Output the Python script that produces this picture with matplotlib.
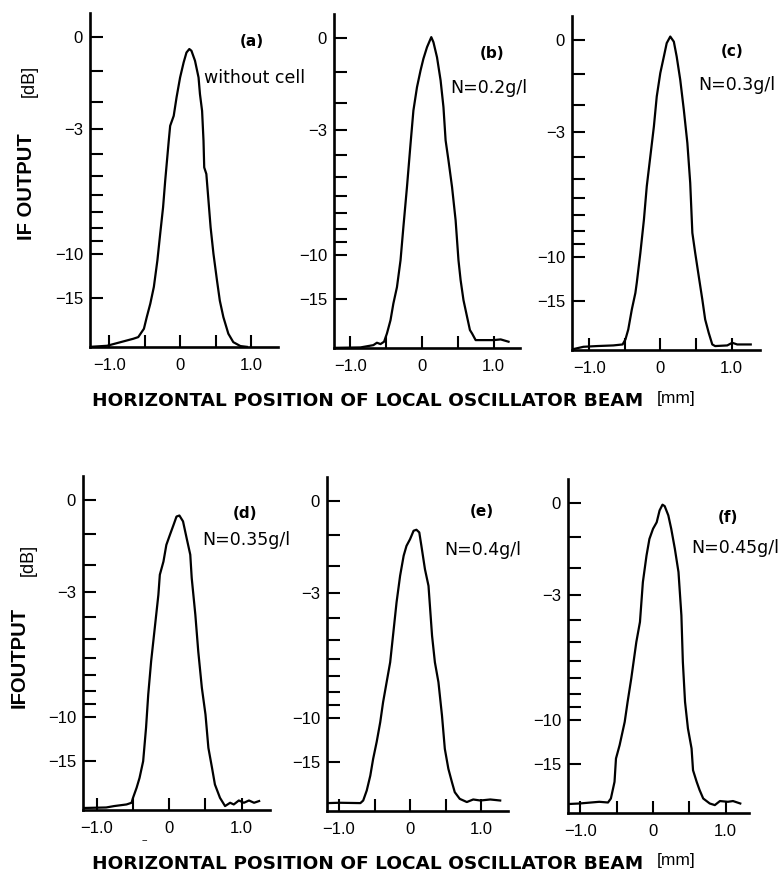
import numpy as np
import matplotlib
matplotlib.use("Agg")
import matplotlib.pyplot as plt
from matplotlib.ticker import NullFormatter

plt.rcParams['font.family'] = ['Liberation Sans', 'DejaVu Sans']

# ---------------- data (position in mm, IF output in dB) ----------------
x_a = [-1.27, -1.03, -0.66, -0.59, -0.51, -0.47, -0.42, -0.37, -0.32, -0.28,
       -0.24, -0.21, -0.16, -0.14, -0.09, -0.05, 0.00, 0.05, 0.09, 0.13,
       0.16, 0.21, 0.26, 0.28, 0.31, 0.33, 0.34, 0.37, 0.40, 0.43,
       0.47, 0.52, 0.56, 0.61, 0.68, 0.75, 0.85, 0.94]
db_a = [-33.0, -31.8, -26.4, -25.5, -22.0, -18.7, -16.0, -13.5, -10.6, -8.4,
        -6.7, -5.25, -3.45, -2.86, -2.49, -1.84, -1.19, -0.73, -0.44, -0.34,
        -0.39, -0.68, -1.19, -1.73, -2.31, -3.45, -4.61, -4.92, -6.31, -7.97,
        -10.0, -12.7, -15.5, -18.7, -23.9, -28.6, -32.1, -33.0]

x_b = [-1.23, -0.86, -0.68, -0.63, -0.58, -0.53, -0.49, -0.44, -0.40, -0.35,
       -0.30, -0.26, -0.21, -0.16, -0.12, -0.07, -0.02, 0.02, 0.07, 0.13,
       0.16, 0.21, 0.26, 0.30, 0.33, 0.37, 0.42, 0.47, 0.51, 0.54,
       0.58, 0.63, 0.67, 0.70, 0.75, 1.00, 1.10, 1.21]
db_b = [-33.0, -32.5, -30.2, -28.3, -29.3, -27.6, -23.4, -19.2, -15.8, -13.4,
        -10.5, -7.88, -5.52, -3.53, -2.26, -1.47, -0.94, -0.59, -0.26, 0.02,
        -0.12, -0.55, -1.25, -2.14, -3.39, -4.24, -5.52, -7.44, -10.5, -12.55,
        -15.25, -18.4, -22.1, -23.4, -26.6, -26.6, -26.2, -27.6]

x_c = [-1.24, -1.08, -0.89, -0.66, -0.53, -0.49, -0.45, -0.40, -0.35, -0.33,
       -0.28, -0.23, -0.19, -0.14, -0.09, -0.05, 0.00, 0.05, 0.09, 0.14,
       0.19, 0.23, 0.28, 0.33, 0.38, 0.42, 0.45, 0.49, 0.54, 0.59,
       0.63, 0.68, 0.73, 0.77, 0.94, 1.01, 1.08, 1.27]
db_c = [-32.5, -29.9, -29.3, -28.8, -28.1, -25.2, -21.25, -16.5, -13.9, -12.6,
        -9.68, -7.27, -5.38, -3.98, -2.77, -1.71, -0.96, -0.47, -0.09, 0.09,
        -0.05, -0.47, -1.17, -2.16, -3.42, -5.21, -8.15, -9.68, -11.9, -14.84,
        -18.55, -22.4, -28.1, -29.3, -28.8, -27.0, -28.1, -28.1]

x_d = [-1.19, -0.87, -0.76, -0.59, -0.52, -0.50, -0.45, -0.41, -0.36, -0.32,
       -0.29, -0.25, -0.20, -0.15, -0.13, -0.08, -0.04, 0.01, 0.06, 0.10,
       0.14, 0.19, 0.24, 0.29, 0.31, 0.36, 0.40, 0.45, 0.50, 0.54,
       0.59, 0.63, 0.70, 0.77, 0.84, 0.89, 0.96, 1.03, 1.10, 1.17, 1.24]
db_d = [-31.0, -30.5, -29.3, -28.1, -27.0, -24.4, -20.7, -18.2, -15.1, -11.0,
        -8.27, -6.18, -4.50, -3.09, -2.34, -1.88, -1.33, -1.01, -0.71, -0.47,
        -0.44, -0.61, -1.12, -1.65, -2.46, -3.91, -5.64, -7.81, -9.82, -13.24,
        -16.2, -19.8, -24.4, -29.3, -27.0, -28.1, -25.7, -27.0, -25.7, -27.0, -26.0]

x_e = [-1.17, -0.99, -0.70, -0.66, -0.61, -0.56, -0.52, -0.47, -0.42, -0.38,
       -0.33, -0.28, -0.24, -0.19, -0.14, -0.09, -0.05, 0.00, 0.05, 0.09,
       0.13, 0.16, 0.21, 0.26, 0.31, 0.35, 0.40, 0.45, 0.49, 0.54,
       0.59, 0.63, 0.70, 0.80, 0.89, 0.99, 1.13, 1.27]
db_e = [-26.6, -26.4, -26.6, -25.2, -21.25, -17.5, -14.6, -12.4, -10.4, -8.76,
        -7.37, -6.18, -4.81, -3.35, -2.34, -1.65, -1.33, -1.12, -0.86, -0.83,
        -0.91, -1.33, -2.11, -2.71, -4.81, -6.18, -7.37, -9.82, -13.24, -16.2,
        -18.95, -21.8, -24.4, -26.0, -24.7, -25.2, -24.7, -25.2]

x_f = [-1.17, -1.01, -0.74, -0.62, -0.58, -0.53, -0.51, -0.46, -0.39, -0.35,
       -0.30, -0.23, -0.18, -0.14, -0.09, -0.05, 0.00, 0.05, 0.09, 0.13,
       0.16, 0.21, 0.25, 0.30, 0.35, 0.39, 0.41, 0.44, 0.48, 0.53,
       0.55, 0.60, 0.64, 0.69, 0.78, 0.85, 0.92, 1.03, 1.10, 1.20]
db_f = [-26.0, -25.7, -24.85, -25.2, -23.4, -18.4, -14.26, -12.55, -10.2, -8.58,
        -7.02, -5.02, -4.09, -2.50, -1.58, -1.05, -0.74, -0.55, -0.21, -0.05,
        -0.09, -0.35, -0.74, -1.36, -2.14, -3.81, -6.05, -8.58, -10.8, -12.95,
        -16.1, -18.4, -20.5, -23.4, -25.7, -26.6, -24.5, -24.85, -24.5, -25.7]

panel_letters = ['(a)', '(b)', '(c)', '(d)', '(e)', '(f)']
panel_notes = ['without cell', 'N=0.2g/l', 'N=0.3g/l', 'N=0.35g/l', 'N=0.4g/l', 'N=0.45g/l']
y_major = [0, -3, -10, -15]
y_major_labels = ['0', '\u22123', '\u221210', '\u221215']
y_minor = [-1, -2, -4, -5, -6, -7, -8, -9]
x_major = [-1.0, -0.5, 0.0, 0.5, 1.0]
x_major_labels = ['\u22121.0', '', '0', '', '1.0']
xlabel_text = 'HORIZONTAL POSITION OF LOCAL OSCILLATOR BEAM'
unit_x = '[mm]'
ylabel_top = 'IF OUTPUT'
ylabel_bottom = 'IFOUTPUT'
unit_y = '[dB]'

series = [(x_a, db_a), (x_b, db_b), (x_c, db_c), (x_d, db_d), (x_e, db_e), (x_f, db_f)]

# ---------------- layout (pixels) ----------------
W, H = 782, 876
fig = plt.figure(figsize=(W / 100, H / 100), dpi=100)

# left spine px, right end px, bottom px, x-limits
boxes = [(90, 278, 347, (-1.27, 1.38)),
         (334, 520, 348, (-1.23, 1.37)),
         (572, 760, 350, (-1.24, 1.40)),
         (83, 270, 810, (-1.19, 1.39)),
         (327, 508, 811, (-1.17, 1.38)),
         (568, 749, 813, (-1.17, 1.32))]
AX_H = 334
letter_pos = [(252, 42), (492, 53), (732, 52), (245, 513), (482, 512), (728, 517)]
note_pos = [(255, 78), (489, 88), (737, 85), (246, 540), (483, 550), (735, 548)]


def fwd(d):
    return 10 ** (np.asarray(d, dtype=float) / 20.0)


def inv(a):
    a = np.clip(np.asarray(a, dtype=float), 1e-9, None)
    return 20.0 * np.log10(a)


def fx(x):
    return x / W


def fy(y):
    return 1 - y / H


for i, ((xs, ys), (l, r, b, xl)) in enumerate(zip(series, boxes)):
    ax = fig.add_axes([l / W, 1 - b / H, (r - l) / W, AX_H / H])
    ax.set_yscale('function', functions=(fwd, inv))
    ax.plot(xs, ys, color='black', lw=1.6, solid_joinstyle='round')
    ax.set_xlim(*xl)
    ax.set_ylim(-33.2, 0.63)
    ax.set_yticks(y_major, labels=y_major_labels)
    ax.set_yticks(y_minor, minor=True)
    ax.yaxis.set_minor_formatter(NullFormatter())
    ax.set_xticks(x_major, labels=x_major_labels)
    for s in ['top', 'right']:
        ax.spines[s].set_visible(False)
    for s in ['left', 'bottom']:
        ax.spines[s].set_linewidth(1.9)
    ax.tick_params(axis='both', which='both', direction='in', length=9, width=1.5,
                   labelsize=12, colors='black')
    ax.tick_params(axis='y', pad=5)
    ax.tick_params(axis='x', pad=8)
    ax.patch.set_alpha(0)

    fig.text(fx(letter_pos[i][0]), fy(letter_pos[i][1]), panel_letters[i],
             ha='center', va='center', fontsize=11, fontweight='bold',
             family=['DejaVu Sans'])
    fig.text(fx(note_pos[i][0]), fy(note_pos[i][1]), panel_notes[i],
             ha='center', va='center', fontsize=12.5, family=['DejaVu Sans'])

# y labels
fig.text(fx(27), fy(187), ylabel_top, rotation=90, ha='center', va='center',
         fontsize=14.5, fontweight='bold')
fig.text(fx(29), fy(81), unit_y, rotation=90, ha='center', va='center', fontsize=13)
fig.text(fx(19), fy(657), ylabel_bottom, rotation=90, ha='center', va='center',
         fontsize=14.5, fontweight='bold')
fig.text(fx(28), fy(560), unit_y, rotation=90, ha='center', va='center', fontsize=13)

# x labels
for yc in (401, 864):
    fig.text(fx(92), fy(yc), xlabel_text, ha='left', va='center', fontsize=13.3,
             fontweight='bold', family=['DejaVu Sans'])
    fig.text(fx(657), fy(yc - 3), unit_x, ha='left', va='center', fontsize=12.5)

# small mark under the axis of panel (d)
fig.text(fx(145), fy(840), '--', ha='center', va='center', fontsize=7)

fig.savefig('out.png', dpi=100)
